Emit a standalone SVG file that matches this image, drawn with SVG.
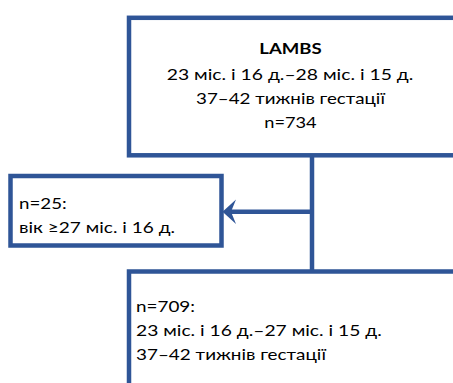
<svg xmlns="http://www.w3.org/2000/svg" width="453" height="383" viewBox="0 0 453 383">
  <style>
    .box { fill: #ffffff; stroke: #2F5597; stroke-width: 4.5; }
    .conn { stroke: #2F5597; stroke-width: 4.5; fill: none; }
    .head { fill: #2F5597; stroke: none; }
    text { font-family: Lato, "Liberation Sans", "DejaVu Sans", sans-serif; font-size: 16px; fill: #000000; }
    .c { text-anchor: middle; }
    .b { font-weight: bold; }
  </style>
  <rect width="453" height="383" fill="#ffffff"/>
  <g id="connectors">
    <line class="conn" x1="312" y1="155" x2="312" y2="271.5"/>
    <line class="conn" x1="312" y1="211.7" x2="231" y2="211.7"/>
    <path class="head" d="M222.5,211.7 L236,199.5 L231,211.7 L236,224 Z"/>
  </g>
  <g id="lambs">
    <rect class="box" x="129" y="17.8" width="340" height="137.5"/>
    <text class="c b" x="290.5" y="53.5" textLength="62.4" lengthAdjust="spacingAndGlyphs">LAMBS</text>
    <text class="c" x="290" y="79.5" textLength="246.6" lengthAdjust="spacingAndGlyphs">23 міс. і 16 д.–28 міс. і 15 д.</text>
    <text class="c" x="290.5" y="103.5" textLength="189" lengthAdjust="spacingAndGlyphs">37–42 тижнів гестації</text>
    <text class="c" x="290.5" y="127.5" textLength="52.4" lengthAdjust="spacingAndGlyphs">n=734</text>
  </g>
  <g id="excluded">
    <rect class="box" x="10.5" y="176" width="211" height="69.5"/>
    <text x="19" y="209.3" textLength="47.7" lengthAdjust="spacingAndGlyphs">n=25:</text>
    <text x="19" y="233.3" textLength="156" lengthAdjust="spacingAndGlyphs">вік ≥27 міс. і 16 д.</text>
  </g>
  <g id="included">
    <rect class="box" x="129" y="271.5" width="340" height="130"/>
    <text x="136" y="312" textLength="59" lengthAdjust="spacingAndGlyphs">n=709:</text>
    <text x="136" y="336" textLength="245.7" lengthAdjust="spacingAndGlyphs">23 міс. і 16 д.–27 міс. і 15 д.</text>
    <text x="136" y="360" textLength="190" lengthAdjust="spacingAndGlyphs">37–42 тижнів гестації</text>
  </g>
</svg>
